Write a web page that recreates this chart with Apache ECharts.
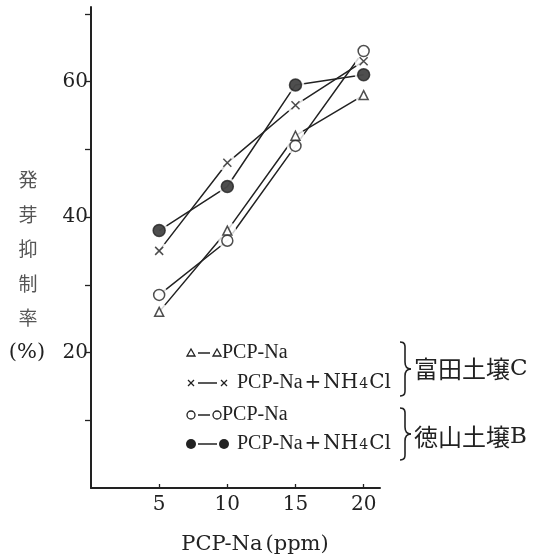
<!DOCTYPE html>
<html>
<head>
<meta charset="utf-8">
<script src="https://cdn.jsdelivr.net/npm/echarts@6/dist/echarts.min.js"></script>
<style>
  html, body { margin: 0; padding: 0; background: #fff; }
  #chart { width: 541px; height: 560px; }
</style>
</head>
<body>
<div id="chart"></div>
<script>
// PCP-Na 濃度 (ppm)
const doses = [5, 10, 15, 20];
// 富田土壌C
const tomitaPcp = [26, 38, 52, 58];
const tomitaPcpNh4 = [35, 48, 56.5, 63];
// 徳山土壌B
const tokuyamaPcp = [28.5, 36.5, 50.5, 64.5];
const tokuyamaPcpNh4 = [38, 44.5, 59.5, 61];
// 目盛
const xTicks = [5, 10, 15, 20];
const yTicks = [10, 20, 30, 40, 50, 60, 70];
const yLabels = [20, 40, 60];

const INK = '#222';
const SERIF = '"Liberation Serif", serif';
const WIDE = '"DejaVu Serif", serif';
const CJK = '"Noto Sans CJK JP", sans-serif';

const pairs = vals => doses.map((d, i) => [d, vals[i]]);

const groups = [
  { vals: tomitaPcp, symbol: 'triangle', size: 9, fill: '#fff' },
  { vals: tomitaPcpNh4, symbol: 'path://M0,0L10,10M10,0L0,10', size: 8, fill: 'none' },
  { vals: tokuyamaPcp, symbol: 'circle', size: 11, fill: '#fff' },
  { vals: tokuyamaPcpNh4, symbol: 'circle', size: 12, fill: INK },
];

const series = [];
// 線
groups.forEach(g => {
  series.push({
    type: 'line',
    data: pairs(g.vals),
    showSymbol: false,
    lineStyle: { color: INK, width: 1.5 },
    silent: true,
    z: 2,
  });
});
// 点のまわりの余白
groups.forEach(g => {
  series.push({
    type: 'scatter',
    data: pairs(g.vals),
    symbol: 'circle',
    symbolSize: 18,
    itemStyle: { color: '#fff' },
    silent: true,
    z: 3,
  });
});
// 記号
groups.forEach(g => {
  series.push({
    type: 'scatter',
    data: pairs(g.vals),
    symbol: g.symbol,
    symbolSize: g.size,
    itemStyle: { color: g.fill, borderColor: INK, borderWidth: 1.5 },
    silent: true,
    z: 4,
  });
});

// 凡例
const nh4 = 'PCP-Na{p|+}{w|NH}{s|4}{w|Cl}';
const legendRows = [
  { y: 353, mark: 'tri', label: 'PCP-Na' },
  { y: 383, mark: 'x', label: nh4 },
  { y: 415, mark: 'open', label: 'PCP-Na' },
  { y: 444, mark: 'dot', label: nh4 },
];

function legendMark(kind, cx, cy) {
  if (kind === 'tri') {
    return [{
      type: 'polygon',
      shape: { points: [[cx, cy - 4], [cx - 4, cy + 3], [cx + 4, cy + 3]] },
      style: { fill: '#fff', stroke: INK, lineWidth: 1.3 },
    }];
  }
  if (kind === 'x') {
    return [
      { type: 'line', shape: { x1: cx - 3, y1: cy - 3, x2: cx + 3, y2: cy + 3 }, style: { stroke: INK, lineWidth: 1.3 } },
      { type: 'line', shape: { x1: cx + 3, y1: cy - 3, x2: cx - 3, y2: cy + 3 }, style: { stroke: INK, lineWidth: 1.3 } },
    ];
  }
  if (kind === 'open') {
    return [{
      type: 'circle',
      shape: { cx, cy, r: 4 },
      style: { fill: '#fff', stroke: INK, lineWidth: 1.3 },
    }];
  }
  return [{
    type: 'circle',
    shape: { cx, cy, r: 5 },
    style: { fill: INK },
  }];
}

const graphics = [];
legendRows.forEach(r => {
  const wide = r.mark === 'x' || r.mark === 'dot';
  const x1 = 191, x2 = wide ? 224 : 217;
  graphics.push({
    type: 'line',
    shape: { x1: x1 + 7, y1: r.y, x2: x2 - 7, y2: r.y },
    style: { stroke: INK, lineWidth: 1.5 },
  });
  graphics.push(...legendMark(r.mark, x1, r.y));
  graphics.push(...legendMark(r.mark, x2, r.y));
  graphics.push({
    type: 'text',
    x: wide ? 237 : 222,
    y: r.y,
    style: {
      text: r.label,
      font: `20px ${SERIF}`,
      fill: INK,
      verticalAlign: 'middle',
      rich: {
        p: { fontSize: 20, fontFamily: WIDE, fill: INK, padding: [0, 2, 0, 2] },
        w: { fontSize: 20, fontFamily: WIDE, fill: INK },
        s: { fontSize: 14, fontFamily: WIDE, fill: INK, padding: [3, 1, 0, 1] },
      },
    },
  });
});

function brace(x, top, bottom) {
  const mid = (top + bottom) / 2;
  const st = { stroke: INK, lineWidth: 1.6, fill: null };
  return [
    { type: 'bezierCurve', shape: { x1: x, y1: top, cpx1: x + 6, cpy1: top, cpx2: x + 5, cpy2: top + 4, x2: x + 5, y2: top + 9 }, style: st },
    { type: 'line', shape: { x1: x + 5, y1: top + 9, x2: x + 5, y2: mid - 7 }, style: st },
    { type: 'bezierCurve', shape: { x1: x + 5, y1: mid - 7, cpx1: x + 5, cpy1: mid - 2, cpx2: x + 7, cpy2: mid, x2: x + 11, y2: mid }, style: st },
    { type: 'bezierCurve', shape: { x1: x + 11, y1: mid, cpx1: x + 7, cpy1: mid, cpx2: x + 5, cpy2: mid + 2, x2: x + 5, y2: mid + 7 }, style: st },
    { type: 'line', shape: { x1: x + 5, y1: mid + 7, x2: x + 5, y2: bottom - 9 }, style: st },
    { type: 'bezierCurve', shape: { x1: x + 5, y1: bottom - 9, cpx1: x + 5, cpy1: bottom - 4, cpx2: x + 6, cpy2: bottom, x2: x, y2: bottom }, style: st },
  ];
}
graphics.push(...brace(400, 342, 396));
graphics.push(...brace(400, 408, 460));
graphics.push({
  type: 'text', x: 414, y: 369,
  style: { text: '富田土壌{l|C}', font: `24px ${CJK}`, fill: INK, verticalAlign: 'middle',
    rich: { l: { fontSize: 23, fontFamily: WIDE, fill: INK } } },
});
graphics.push({
  type: 'text', x: 414, y: 437,
  style: { text: '徳山土壌{l|B}', font: `24px ${CJK}`, fill: INK, verticalAlign: 'middle',
    rich: { l: { fontSize: 23, fontFamily: WIDE, fill: INK } } },
});

// 軸の名前
graphics.push({
  type: 'text', x: 28, y: 249,
  style: {
    text: '発\n芽\n抑\n制\n率', font: `19px ${CJK}`, fill: '#555',
    align: 'center', verticalAlign: 'middle', lineHeight: 34.5,
  },
});
graphics.push({
  type: 'text', x: 27, y: 353,
  style: { text: '(%)', font: `21px ${WIDE}`, fill: INK, align: 'center', verticalAlign: 'middle' },
});
graphics.push({
  type: 'text', x: 255, y: 545,
  style: {
    text: 'PCP-Na{q|(ppm)}', font: `21px ${WIDE}`, fill: INK, align: 'center', verticalAlign: 'middle',
    rich: { q: { fontSize: 21, fontFamily: WIDE, fill: INK, padding: [0, 0, 0, 3] } },
  },
});

const chart = echarts.init(document.getElementById('chart'));
chart.setOption({
  animation: false,
  backgroundColor: '#fff',
  grid: { left: 91, right: 161, top: 7, bottom: 72, containLabel: false },
  xAxis: {
    type: 'value',
    min: 0,
    max: 21.2,
    splitLine: { show: false },
    axisLine: { lineStyle: { color: INK, width: 2 } },
    axisTick: { customValues: xTicks, inside: true, length: 4, lineStyle: { color: INK, width: 1.3 } },
    axisLabel: { customValues: xTicks, color: INK, fontFamily: WIDE, fontSize: 20, margin: 7 },
  },
  yAxis: {
    type: 'value',
    min: 0,
    max: 71,
    splitLine: { show: false },
    axisLine: { lineStyle: { color: INK, width: 2 } },
    axisTick: { customValues: yTicks, length: 6, lineStyle: { color: INK, width: 1.3 } },
    axisLabel: { customValues: yLabels, color: INK, fontFamily: WIDE, fontSize: 20, margin: 3 },
  },
  series,
  graphic: graphics,
});
</script>
</body>
</html>
